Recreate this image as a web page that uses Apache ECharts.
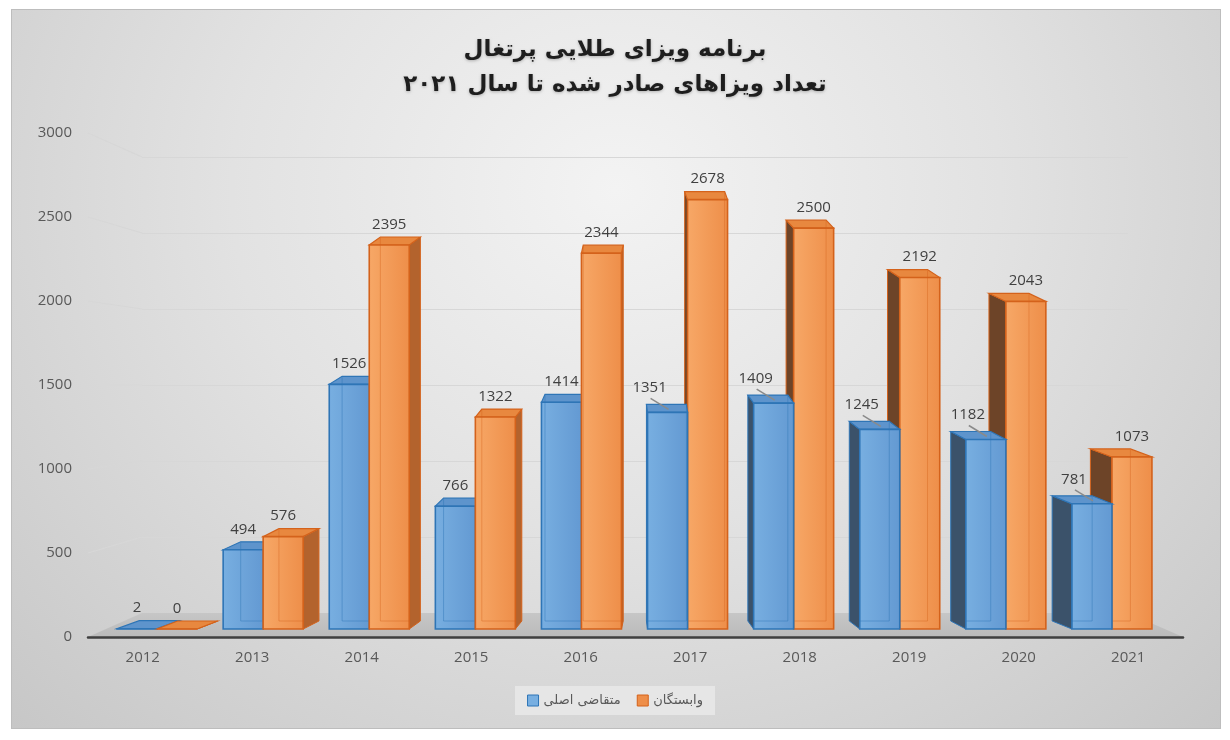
<!DOCTYPE html>
<html>
<head>
<meta charset="utf-8">
<script src="https://cdn.jsdelivr.net/npm/echarts@6/dist/echarts.min.js"></script>
<style>
  html, body { margin: 0; padding: 0; background: #fff; }
  #wrap { position: relative; width: 1230px; height: 740px; }
  #panel {
    position: absolute; left: 11px; top: 9px; width: 1208px; height: 718px;
    border: 1px solid #bdbdbd;
    background: radial-gradient(ellipse at 50% 25%, #f3f3f3 0%, #e2e2e2 45%, #c7c7c7 100%);
  }
  #chart { position: absolute; left: 0; top: 0; width: 1230px; height: 740px; }
</style>
</head>
<body>
<div id="wrap">
  <div id="panel"></div>
  <div id="chart"></div>
</div>
<script>
// ---- data ----
const years = ['2012', '2013', '2014', '2015', '2016', '2017', '2018', '2019', '2020', '2021'];
const mainApplicants = [2, 494, 1526, 766, 1414, 1351, 1409, 1245, 1182, 781];
const dependants = [0, 576, 2395, 1322, 2344, 2678, 2500, 2192, 2043, 1073];
const valueTicks = [0, 500, 1000, 1500, 2000, 2500, 3000];
const seriesNames = ['متقاضی اصلی', 'وابستگان'];
const titleLines = ['برنامه ویزای طلایی پرتغال', 'تعداد ویزاهای صادر شده تا سال ۲۰۲۱'];

// ---- layout / look ----
const WALL_GRID = { left: 142, right: 102, top: 157, bottom: 127 };   // back wall (gridlines)
const FRONT_GRID = { left: 88, right: 47, top: 133, bottom: 103 };    // front edge (axis labels)
const BAR_GRID = { left: 104, right: 65, top: 148, bottom: 111 };     // bar front faces
const VANISH_X = 642;   // where bars show no side face
const SLANT = 0.044;    // side depth per px away from VANISH_X
const DEPTH_Y = -8;     // vertical shift of back faces
const BAR_RATIO = 0.377;
const NUM_FONT = '"Open Sans", "DejaVu Sans", sans-serif';
const FA_FONT = '"DejaVu Sans", "Noto Sans", sans-serif';

const palettes = [
  { front1: '#78afe1', front2: '#6399d2', top: '#5e94cc', sideR: '#4f80b2', sideL: '#3b526a',
    edge: '#2e75b6', inner: 'rgba(46,117,182,0.45)' },
  { front1: '#f7a867', front2: '#ee8e49', top: '#e8883f', sideR: '#b3632d', sideL: '#6d4428',
    edge: '#d4621b', inner: 'rgba(212,98,27,0.4)' }
];

function barRenderer(slot) {
  const pal = palettes[slot];
  return function (params, api) {
    const idx = api.value(0);
    const val = api.value(1);
    const base = api.coord([idx, 0]);
    const top = api.coord([idx, val]);
    const band = api.size([1, 0])[0];
    const w = band * BAR_RATIO;
    const x0 = slot === 0 ? base[0] - w : base[0];
    const x1 = x0 + w;
    const yb = base[1], yt = top[1];
    const cx = x0 + w / 2;
    const dx = (VANISH_X - cx) * SLANT;
    const dy = DEPTH_Y;
    const rightHalf = cx > VANISH_X;
    // left of centre the orange bar hides blue's side, right of centre the reverse
    const zb = ((slot === 1) !== rightHalf) ? 20 : 10;
    const sideX = dx >= 0 ? x1 : x0;
    const innerX = dx >= 0 ? x0 + dx : x1 + dx;
    const innerEnd = dx >= 0 ? x1 : x0;

    const children = [
      { type: 'polygon', z2: zb + 1,
        shape: { points: [[sideX, yt], [sideX + dx, yt + dy], [sideX + dx, yb + dy], [sideX, yb]] },
        style: { fill: dx >= 0 ? pal.sideR : pal.sideL, stroke: pal.edge, lineWidth: 1 } },
      { type: 'polygon', z2: zb + 2,
        shape: { points: [[x0, yt], [x1, yt], [x1 + dx, yt + dy], [x0 + dx, yt + dy]] },
        style: { fill: pal.top, stroke: pal.edge, lineWidth: 1.2 } },
      { type: 'rect', z2: zb + 3,
        shape: { x: x0, y: yt, width: w, height: yb - yt },
        style: {
          fill: { type: 'linear', x: 0, y: 0, x2: 1, y2: 0,
                  colorStops: [{ offset: 0, color: pal.front1 }, { offset: 1, color: pal.front2 }] },
          stroke: pal.edge, lineWidth: 1.6 } }
    ];
    if (yb - yt > 12) {
      children.push({ type: 'polyline', z2: zb + 4, silent: true,
        shape: { points: [[innerX, yt + dy + 1], [innerX, yb + dy], [innerEnd, yb + dy]] },
        style: { stroke: pal.inner, lineWidth: 1, fill: null } });
    }

    // value label
    let lx = cx, ly = yt + dy - 5;
    if (slot === 0 && rightHalf) {
      lx = cx - 18;
      ly = yt - 17;
      children.push({ type: 'line', z2: 99, silent: true,
        shape: { x1: cx - 17, y1: yt - 14, x2: cx + 1, y2: yt - 3 },
        style: { stroke: '#8a8a8a', lineWidth: 1.5 } });
    }
    children.push({ type: 'text', z2: 100, silent: true,
      style: { text: String(val), x: lx, y: ly, align: 'center', verticalAlign: 'bottom',
               fill: '#404040', font: '15px ' + NUM_FONT } });

    return { type: 'group', children: children };
  };
}

const chart = echarts.init(document.getElementById('chart'), null, { renderer: 'canvas' });

const yMax = valueTicks[valueTicks.length - 1];
const yStep = valueTicks[1] - valueTicks[0];

chart.setOption({
  backgroundColor: 'transparent',
  animation: false,
  title: {
    text: titleLines.join('\n'),
    left: 'center',
    top: 28,
    textStyle: {
      fontFamily: FA_FONT, fontWeight: 'bold', fontSize: 23, lineHeight: 35, color: '#1e1e1e',
      textShadowColor: 'rgba(0,0,0,0.25)', textShadowBlur: 3, textShadowOffsetY: 1
    }
  },
  legend: {
    data: [
      { name: seriesNames[0], itemStyle: { color: palettes[0].front1, borderColor: palettes[0].edge, borderWidth: 1 } },
      { name: seriesNames[1], itemStyle: { color: palettes[1].front2, borderColor: palettes[1].edge, borderWidth: 1 } }
    ],
    left: 'center',
    top: 686,
    icon: 'rect',
    itemWidth: 11,
    itemHeight: 11,
    itemGap: 16,
    padding: [8, 12],
    backgroundColor: 'rgba(232,232,232,0.9)',
    textStyle: { fontFamily: FA_FONT, fontSize: 13, color: '#595959' }
  },
  grid: [
    Object.assign({ containLabel: false }, WALL_GRID),
    Object.assign({ containLabel: false }, FRONT_GRID),
    Object.assign({ containLabel: false }, BAR_GRID)
  ],
  xAxis: [
    { gridIndex: 0, type: 'category', data: years, show: false },
    { gridIndex: 1, type: 'category', data: years, z: 3,
      axisLine: { lineStyle: { color: '#3f3f3f', width: 2.5 } },
      axisTick: { show: false },
      axisLabel: { margin: 13, color: '#595959', fontFamily: NUM_FONT, fontSize: 15 } },
    { gridIndex: 2, type: 'category', data: years, show: false }
  ],
  yAxis: [
    { gridIndex: 0, type: 'value', min: 0, max: yMax, interval: yStep,
      axisLabel: { show: false }, axisLine: { show: false }, axisTick: { show: false },
      splitLine: { lineStyle: { color: '#d7d7d7', width: 1.2 } } },
    { gridIndex: 1, type: 'value', min: 0, max: yMax, interval: yStep,
      axisLine: { show: false }, axisTick: { show: false }, splitLine: { show: false },
      axisLabel: { margin: 16, color: '#595959', fontFamily: NUM_FONT, fontSize: 15,
                   formatter: v => String(v) } },
    { gridIndex: 2, type: 'value', min: 0, max: yMax, show: false }
  ],
  series: [
    { name: seriesNames[0], type: 'custom', xAxisIndex: 2, yAxisIndex: 2,
      itemStyle: { color: palettes[0].front1 },
      renderItem: barRenderer(0), encode: { x: 0, y: 1 },
      data: years.map((y, i) => [i, mainApplicants[i]]) },
    { name: seriesNames[1], type: 'custom', xAxisIndex: 2, yAxisIndex: 2,
      itemStyle: { color: palettes[1].front2 },
      renderItem: barRenderer(1), encode: { x: 0, y: 1 },
      data: years.map((y, i) => [i, dependants[i]]) }
  ]
});

// floor and side wall lines, placed through the axes of the wall / front grids
const W = 1230;
const frontY = v => chart.convertToPixel({ yAxisIndex: 1 }, v);
const wallY = v => chart.convertToPixel({ yAxisIndex: 0 }, v);
const fx0 = FRONT_GRID.left, fx1 = W - FRONT_GRID.right;
const wx0 = WALL_GRID.left, wx1 = W - WALL_GRID.right;
const graphics = [{
  type: 'polygon', z: 0, silent: true,
  shape: { points: [[fx0, frontY(0)], [fx1, frontY(0)], [wx1, wallY(0)], [wx0, wallY(0)]] },
  style: { fill: { type: 'linear', x: 0, y: 0, x2: 0, y2: 1,
           colorStops: [{ offset: 0, color: '#c6c6c6' }, { offset: 1, color: '#bababa' }] } }
}];
valueTicks.slice(1).forEach(v => {
  graphics.push({ type: 'line', z: 0, silent: true,
    shape: { x1: fx0, y1: frontY(v), x2: wx0, y2: wallY(v) },
    style: { stroke: '#d7d7d7', lineWidth: 1.2 } });
});
chart.setOption({ graphic: graphics });
</script>
</body>
</html>
